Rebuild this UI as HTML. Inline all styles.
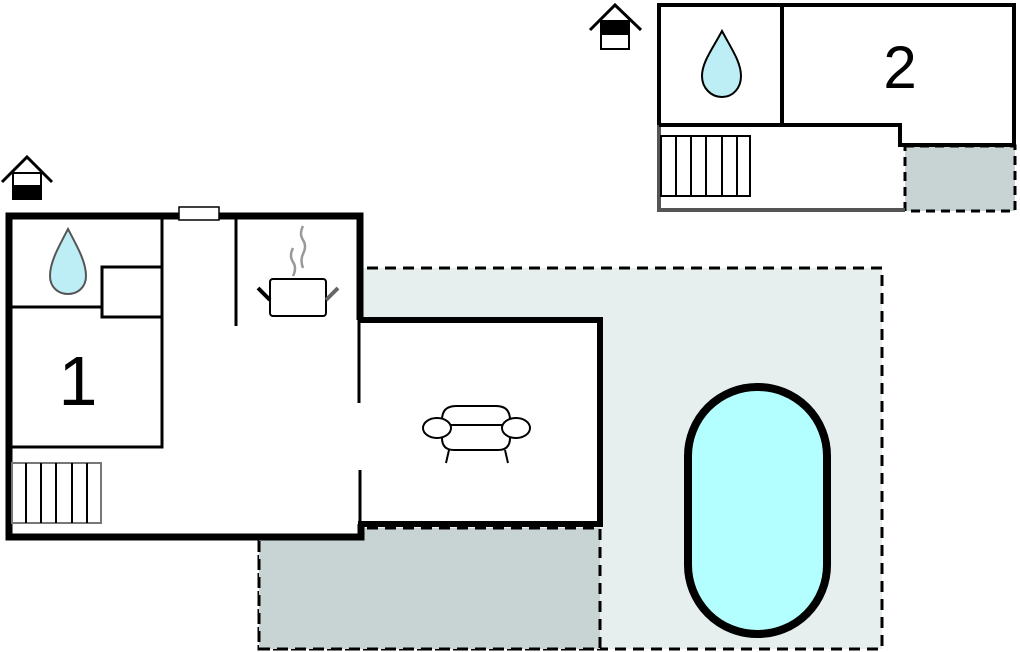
<!DOCTYPE html>
<html><head><style>body{margin:0;background:#fff}svg{display:block}</style></head><body>
<svg width="1020" height="652" viewBox="0 0 1020 652" xmlns="http://www.w3.org/2000/svg">
<!-- patios -->
<rect x="259" y="268" width="623" height="381" fill="#e6eeee" stroke="#000" stroke-width="3" stroke-dasharray="11,7"/>
<rect x="259" y="528" width="341" height="121" fill="#c8d4d4" stroke="#000" stroke-width="3" stroke-dasharray="11,7"/>
<rect x="8" y="216" width="353" height="321" fill="#fff"/>
<rect x="358" y="320" width="242" height="204" fill="#fff"/>
<path d="M358 320 H600 V524 H358" fill="none" stroke="#000" stroke-width="6"/>
<!-- main walls -->
<path d="M360 320 V216 H9 V537 H361 V524" fill="none" stroke="#000" stroke-width="7"/>
<path d="M359 320 V403 M360 470 V524" stroke="#000" stroke-width="3"/>
<!-- interior -->
<path d="M162 216 V447 H9 M9 307 H102 M236 216 V326" fill="none" stroke="#000" stroke-width="3"/>
<rect x="102" y="267" width="60" height="50" fill="#fff" stroke="#000" stroke-width="3"/>
<rect x="179" y="207" width="40" height="13" fill="#fff" stroke="#000" stroke-width="1.5"/>
<!-- stairs 1 -->
<rect x="12" y="463" width="89" height="60" fill="#fff" stroke="#777" stroke-width="2"/>
<path d="M26 463V523M41 463V523M56 463V523M72 463V523M87 463V523" stroke="#000" stroke-width="2"/>
<!-- drop 1 -->
<path d="M68 229 C58 248 50 262 50 276 C50 287 58 294 68 294 C78 294 86 287 86 276 C86 262 78 248 68 229Z" fill="#bdeef5" stroke="#555" stroke-width="2"/>
<text x="78" y="405" font-family="Liberation Sans, sans-serif" font-size="70" text-anchor="middle">1</text>
<!-- pot -->
<rect x="270" y="279" width="56" height="37" rx="3" fill="#fff" stroke="#000" stroke-width="2"/>
<path d="M258 288 L270 300" stroke="#000" stroke-width="4"/>
<path d="M326 300 L338 288" stroke="#666" stroke-width="4"/>
<path d="M293 248 q-4 8 0 14 q4 6 0 14 M303 226 q-4 8 0 14 q4 6 0 14 q-3 6 0 14" fill="none" stroke="#999" stroke-width="2.5"/>
<!-- sofa -->
<g fill="#fff" stroke="#000" stroke-width="2">
<path d="M442 438 V420 q0-14 14-14 h40 q14 0 14 14 V438 q0 12-12 12 h-44 q-12 0-12-12Z"/>
<path d="M449 450 L446 463 M505 450 L508 463"/>
<path d="M450 425 H505"/>
<ellipse cx="437" cy="428" rx="14" ry="10"/>
<ellipse cx="516" cy="428" rx="14" ry="10"/>
</g>
<!-- pool -->
<rect x="688" y="387" width="139" height="247" rx="69" fill="#b3ffff" stroke="#000" stroke-width="8"/>
<!-- house icon 1 -->
<path d="M2 182 L27 157 L52 182" fill="none" stroke="#000" stroke-width="3"/>
<rect x="13" y="173" width="28" height="26" fill="#fff" stroke="#000" stroke-width="2"/>
<rect x="12" y="185" width="30" height="15" fill="#000"/>
<!-- top building -->
<rect x="905" y="146" width="110" height="65" fill="#c8d4d4" stroke="#000" stroke-width="3" stroke-dasharray="9,6"/>
<path d="M659 125 V210 H905" fill="none" stroke="#555" stroke-width="4"/>
<path d="M659 125 V5 H1014 V145 H900 V125 H659 M782 5 V125" fill="none" stroke="#000" stroke-width="4"/>
<rect x="661" y="136" width="89" height="60" fill="#fff" stroke="#000" stroke-width="2"/>
<path d="M676 136V196M691 136V196M706 136V196M722 136V196M737 136V196" stroke="#000" stroke-width="2"/>
<path d="M722 31 C713 48 702 62 702 76 C702 88 711 97 722 97 C733 97 741 88 741 76 C741 62 731 48 722 31Z" fill="#bdeef5" stroke="#000" stroke-width="2"/>
<text x="900" y="88" font-family="Liberation Sans, sans-serif" font-size="60" text-anchor="middle">2</text>
<!-- house icon 2 -->
<path d="M590 30 L615 5 L641 30" fill="none" stroke="#000" stroke-width="3"/>
<rect x="601" y="21" width="28" height="28" fill="#fff" stroke="#000" stroke-width="2"/>
<rect x="601" y="21" width="28" height="14" fill="#000"/>
</svg>
</body></html>
